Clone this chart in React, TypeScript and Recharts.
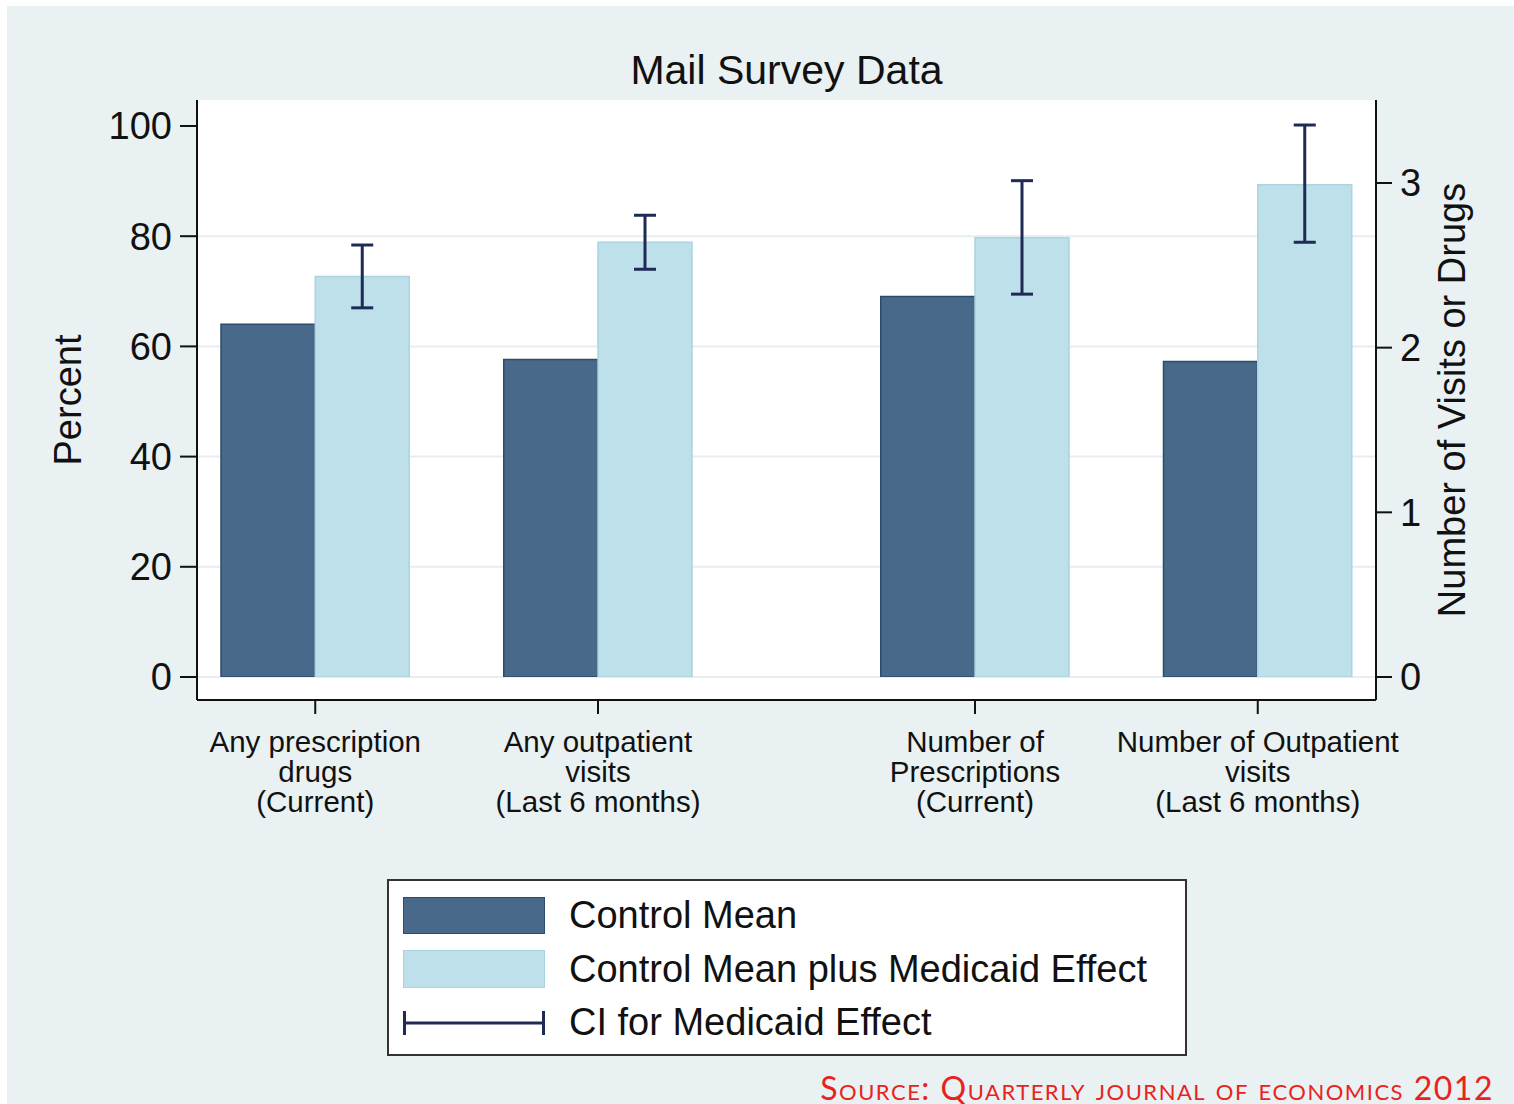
import {
  ComposedChart,
  Bar,
  XAxis,
  YAxis,
  CartesianGrid,
  ErrorBar,
} from 'recharts';

const categories = [
  ['Any prescription', 'drugs', '(Current)'],
  ['Any outpatient', 'visits', '(Last 6 months)'],
  ['Number of', 'Prescriptions', '(Current)'],
  ['Number of Outpatient', 'visits', '(Last 6 months)'],
];
// which y axis each group is read against
const axisSide = ['left', 'left', 'right', 'right'];
const controlMean = [64.0, 57.6, 2.31, 1.916];
const medicaidMean = [72.7, 78.9, 2.668, 2.989];
const ciLow = [67.0, 74.0, 2.325, 2.64];
const ciHigh = [78.4, 83.8, 3.014, 3.352];
// slot where each group begins (bars take one slot each, gap after the 2nd group)
const groupSlot = [0, 3, 7, 10];
const SLOTS = 12;
const percentTicks = [0, 20, 40, 60, 80, 100];
const countTicks = [0, 1, 2, 3];
const gridValues = [0, 20, 40, 60, 80];

const CONTROL = '#48698a';
const CONTROL_EDGE = '#2d4b6c';
const MEDICAID = '#bde0ea';
const MEDICAID_EDGE = '#a9d4e0';
const CI = '#1f2b55';
const BG = '#e9f1f3';
const FONT = '"Liberation Sans", Arial, sans-serif';

type Row = { [k: string]: number | number[] | undefined };

const rows: Row[] = Array.from({ length: SLOTS }, (_, i) => ({ slot: i, mid: i + 0.5 }));
categories.forEach((_, g) => {
  const s = groupSlot[g];
  const sfx = axisSide[g] === 'left' ? 'Pct' : 'Num';
  rows[s]['control' + sfx] = controlMean[g];
  rows[s + 1]['medicaid' + sfx] = medicaidMean[g];
  rows[s + 1]['ci' + sfx] = [medicaidMean[g] - ciLow[g], ciHigh[g] - medicaidMean[g]];
});
const tickPositions = groupSlot.map((s) => s + 1);

function CategoryTick(props: any) {
  const { x, y, payload } = props;
  const lines = categories[tickPositions.indexOf(payload.value)] || [];
  return (
    <text x={x} y={y} textAnchor="middle" fontSize={29.5} fill="#111" fontFamily={FONT}>
      {lines.map((l, i) => (
        <tspan key={i} x={x} dy={i === 0 ? 36 : 30}>
          {l}
        </tspan>
      ))}
    </text>
  );
}

function axisTitle(text: string, dx: number) {
  return (props: any) => {
    const vb = props.viewBox;
    const cx = vb.x + dx;
    const cy = vb.y + vb.height / 2;
    return (
      <text
        x={cx}
        y={cy}
        textAnchor="middle"
        dominantBaseline="central"
        transform={`rotate(-90, ${cx}, ${cy})`}
        fontSize={38}
        fill="#111"
        fontFamily={FONT}
      >
        {text}
      </text>
    );
  };
}

function Legend() {
  const item = { display: 'flex', alignItems: 'center', height: 53.5 } as const;
  const text = { marginLeft: 24, fontSize: 38, color: '#111' } as const;
  return (
    <div
      style={{
        position: 'absolute',
        left: 387,
        top: 879,
        width: 800,
        height: 177,
        border: '2px solid #333',
        background: '#fff',
        fontFamily: FONT,
        paddingTop: 8,
        paddingLeft: 14,
        boxSizing: 'border-box',
      }}
    >
      <div style={item}>
        <div style={{ width: 142, height: 37, background: CONTROL, border: `1.5px solid ${CONTROL_EDGE}`, boxSizing: 'border-box' }} />
        <span style={text}>Control Mean</span>
      </div>
      <div style={item}>
        <div style={{ width: 142, height: 38, background: MEDICAID, border: `1.5px solid ${MEDICAID_EDGE}`, boxSizing: 'border-box' }} />
        <span style={text}>Control Mean plus Medicaid Effect</span>
      </div>
      <div style={item}>
        <svg width={142} height={30}>
          <line x1={1.5} y1={15} x2={140.5} y2={15} stroke={CI} strokeWidth={3} />
          <line x1={1.5} y1={3} x2={1.5} y2={27} stroke={CI} strokeWidth={3} />
          <line x1={140.5} y1={3} x2={140.5} y2={27} stroke={CI} strokeWidth={3} />
        </svg>
        <span style={text}>CI for Medicaid Effect</span>
      </div>
    </div>
  );
}

export default function App() {
  return (
    <div style={{ position: 'absolute', left: 0, top: 0, width: 1514, height: 1104, background: '#fff' }}>
      <div style={{ position: 'absolute', left: 7, top: 6, width: 1507, height: 1098, background: BG }} />
      <div
        style={{
          position: 'absolute',
          left: 197,
          width: 1179,
          top: 47,
          textAlign: 'center',
          fontFamily: FONT,
          fontSize: 41,
          color: '#111',
        }}
      >
        Mail Survey Data
      </div>
      <div style={{ position: 'absolute', left: 0, top: 0 }}>
        <ComposedChart
          width={1514}
          height={1104}
          data={rows}
          margin={{ top: 100, right: 0, bottom: 274, left: 0 }}
          barCategoryGap={0}
          barGap={0}
        >
          <CartesianGrid
            yAxisId="left"
            xAxisId="cat"
            vertical={false}
            horizontalValues={gridValues}
            stroke="#e6eef1"
            strokeWidth={2}
            fill="#fff"
          />
          <XAxis xAxisId="cat" dataKey="slot" type="category" hide height={0} padding={{ left: 24, right: 24 }} />
          <XAxis
            xAxisId="lab"
            dataKey="mid"
            type="number"
            domain={[0, SLOTS]}
            allowDataOverflow
            ticks={tickPositions}
            padding={{ left: 24, right: 24 }}
            height={130}
            axisLine={{ stroke: '#111', strokeWidth: 2 }}
            tickLine={{ stroke: '#111', strokeWidth: 2 }}
            tickSize={14}
            tick={<CategoryTick />}
            interval={0}
          />
          <YAxis
            yAxisId="left"
            orientation="left"
            width={197}
            domain={[0, 100]}
            allowDataOverflow
            ticks={percentTicks}
            padding={{ top: 26, bottom: 23 }}
            axisLine={{ stroke: '#111', strokeWidth: 2 }}
            tickLine={{ stroke: '#111', strokeWidth: 2 }}
            tickSize={17}
            tickMargin={8}
            tick={{ fontSize: 38, fill: '#111', fontFamily: FONT }}
            label={axisTitle('Percent', 68)}
          />
          <YAxis
            yAxisId="right"
            orientation="right"
            width={138}
            domain={[0, 3.346]}
            allowDataOverflow
            ticks={countTicks}
            padding={{ top: 26, bottom: 23 }}
            axisLine={{ stroke: '#111', strokeWidth: 2 }}
            tickLine={{ stroke: '#111', strokeWidth: 2 }}
            tickSize={16}
            tickMargin={8}
            tick={{ fontSize: 38, fill: '#111', fontFamily: FONT }}
            label={axisTitle('Number of Visits or Drugs', 76)}
          />
          <Bar xAxisId="cat" yAxisId="left" dataKey="controlPct" stackId="s" fill={CONTROL} stroke={CONTROL_EDGE} strokeWidth={1.5} isAnimationActive={false} />
          <Bar xAxisId="cat" yAxisId="left" dataKey="medicaidPct" stackId="s" fill={MEDICAID} stroke={MEDICAID_EDGE} strokeWidth={1.5} isAnimationActive={false}>
            <ErrorBar dataKey="ciPct" width={11} stroke={CI} strokeWidth={3} direction="y" />
          </Bar>
          <Bar xAxisId="cat" yAxisId="right" dataKey="controlNum" stackId="s" fill={CONTROL} stroke={CONTROL_EDGE} strokeWidth={1.5} isAnimationActive={false} />
          <Bar xAxisId="cat" yAxisId="right" dataKey="medicaidNum" stackId="s" fill={MEDICAID} stroke={MEDICAID_EDGE} strokeWidth={1.5} isAnimationActive={false}>
            <ErrorBar dataKey="ciNum" width={11} stroke={CI} strokeWidth={3} direction="y" />
          </Bar>
        </ComposedChart>
      </div>
      <Legend />
      <div
        style={{
          position: 'absolute',
          right: 20,
          top: 1068,
          fontFamily: 'Lato, "Open Sans", sans-serif',
          fontVariant: 'small-caps',
          fontSize: 32,
          color: '#e8231e',
          letterSpacing: 1.5,
          whiteSpace: 'nowrap',
        }}
      >
        Source: Quarterly journal of economics 2012
      </div>
    </div>
  );
}
